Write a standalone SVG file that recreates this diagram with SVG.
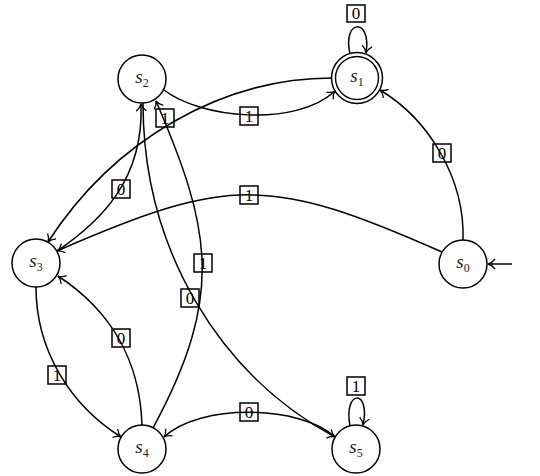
<svg xmlns="http://www.w3.org/2000/svg" width="540" height="476" viewBox="0 0 540 476">
<defs>
<style>
.st{fill:#fff;stroke:#000;stroke-width:1.5}
.in{fill:none;stroke:#000;stroke-width:1.4}
.e{fill:none;stroke:#000;stroke-width:1.5;marker-end:url(#ah)}
.lb{fill:none;stroke:#000;stroke-width:1.5}
.lt{font-family:"Liberation Serif","DejaVu Serif",serif;font-size:17px;text-anchor:middle;fill:#000}
.nt{font-family:"Liberation Serif","DejaVu Serif",serif;font-size:19px;font-style:italic;text-anchor:middle;fill:#222}
.sb{font-size:12px;font-style:normal}
</style>
<marker id="ah" viewBox="-8 -6 10 12" refX="0" refY="0" markerWidth="10" markerHeight="12" markerUnits="userSpaceOnUse" orient="auto">
<path d="M-7,-5 C-4.5,-1.6 -1.6,-0.4 0,0 C-1.6,0.4 -4.5,1.6 -7,5" fill="none" stroke="#000" stroke-width="1.3"/>
</marker>
</defs>
<rect width="540" height="476" fill="#fff"/>
<g id="connectors">
<path class="e" d="M463,240 C465,180 430,120 380,90"/>
<rect class="lb" x="433" y="144" width="18" height="18"/><text class="lt" x="442" y="159">0</text>
<path class="e" d="M442,252 C270,176 229,176 57,251"/>
<rect class="lb" x="240" y="186" width="18" height="18"/><text class="lt" x="249" y="201">1</text>
<path class="e" d="M512,264 L488,264"/>
<path class="e" d="M350,54 C342,18 372,18 366,53"/>
<rect class="lb" x="347" y="5" width="18" height="17"/><text class="lt" x="356" y="19">0</text>
<path class="e" d="M164,90 C200,118 295,128 335,91"/>
<rect class="lb" x="240" y="107" width="18" height="18"/><text class="lt" x="249" y="122">1</text>
<path class="e" d="M332,78 C222,78 114,140 48,242"/>
<rect class="lb" x="156" y="109" width="18" height="18"/><text class="lt" x="165" y="124">1</text>
<path class="e" d="M57,251 C100,222 144,180 141,104"/>
<rect class="lb" x="112" y="180" width="18" height="18"/><text class="lt" x="121" y="195">0</text>
<path class="e" d="M143,103 C143,250 220,375 335,437"/>
<rect class="lb" x="181" y="289" width="18" height="18"/><text class="lt" x="190" y="304">0</text>
<path class="e" d="M153,428 C225,295 211,229 156,101"/>
<rect class="lb" x="194" y="254" width="18" height="18"/><text class="lt" x="203" y="269">1</text>
<path class="e" d="M335,437 C300,405 200,403 164,437"/>
<rect class="lb" x="240" y="403" width="18" height="18"/><text class="lt" x="249" y="418">0</text>
<path class="e" d="M36,287 C36,350 70,405 121,437"/>
<rect class="lb" x="48" y="366" width="18" height="18"/><text class="lt" x="57" y="381">1</text>
<path class="e" d="M142,425 C140,360 110,310 58,276"/>
<rect class="lb" x="112" y="329" width="18" height="18"/><text class="lt" x="121" y="344">0</text>
<path class="e" d="M350,426 C343,389 371,389 363,425"/>
<rect class="lb" x="347" y="377" width="18" height="18"/><text class="lt" x="356" y="392">1</text>
</g>
<g id="s0"><circle class="st" cx="463" cy="264" r="24"/><text class="nt" x="463" y="268">s<tspan class="sb" dy="4">0</tspan></text></g>
<g id="s1"><circle class="st" cx="357" cy="78" r="25.5"/><circle class="in" cx="357" cy="78" r="21.5"/><text class="nt" x="357" y="82">s<tspan class="sb" dy="4">1</tspan></text></g>
<g id="s2"><circle class="st" cx="142" cy="79" r="24"/><text class="nt" x="142" y="83">s<tspan class="sb" dy="4">2</tspan></text></g>
<g id="s3"><circle class="st" cx="36" cy="263" r="24"/><text class="nt" x="36" y="267">s<tspan class="sb" dy="4">3</tspan></text></g>
<g id="s4"><circle class="st" cx="142" cy="449" r="24"/><text class="nt" x="142" y="453">s<tspan class="sb" dy="4">4</tspan></text></g>
<g id="s5"><circle class="st" cx="356" cy="449" r="24"/><text class="nt" x="356" y="453">s<tspan class="sb" dy="4">5</tspan></text></g>
</svg>
